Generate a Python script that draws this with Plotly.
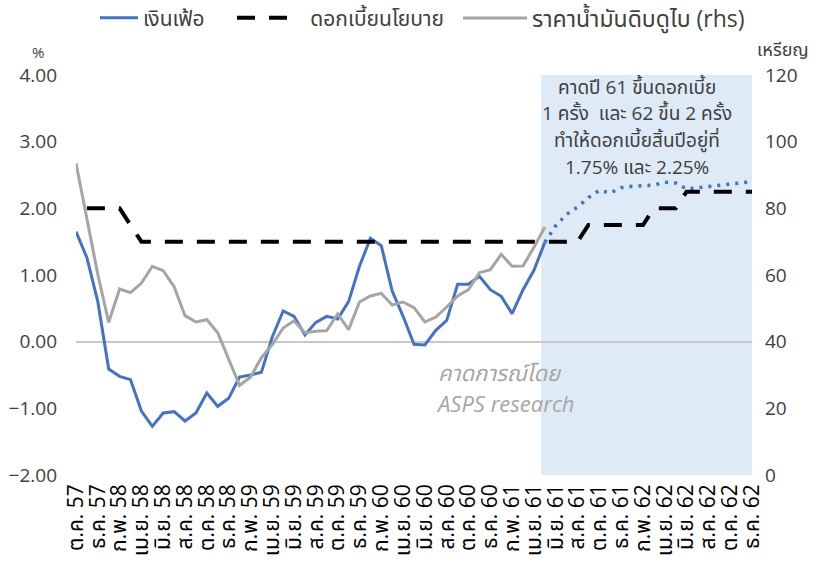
import plotly.graph_objects as go

# ---------------- data ----------------
month_names = ['ม.ค.', 'ก.พ.', 'มี.ค.', 'เม.ย.', 'พ.ค.', 'มิ.ย.', 'ก.ค.', 'ส.ค.', 'ก.ย.', 'ต.ค.', 'พ.ย.', 'ธ.ค.']
# categories: Oct 2557(BE) .. Dec 2562(BE), monthly (63 points)
categories = []
m, yr = 9, 57
for i in range(63):
    categories.append(f"{month_names[m]} {yr}")
    m += 1
    if m == 12:
        m, yr = 0, yr + 1

inflation = [1.65, 1.26, 0.60, -0.41, -0.52, -0.57, -1.04, -1.27, -1.07, -1.05,
             -1.19, -1.07, -0.77, -0.97, -0.85, -0.53, -0.50, -0.46, 0.07, 0.46,
             0.38, 0.10, 0.29, 0.38, 0.34, 0.60, 1.13, 1.55, 1.44, 0.76,
             0.38, -0.04, -0.05, 0.17, 0.32, 0.86, 0.86, 0.98, 0.78, 0.68,
             0.42, 0.78, 1.07, 1.49]
inflation_fc = [1.49, 1.74, 1.91, 2.02, 2.16, 2.27, 2.23, 2.31, 2.33, 2.34,
                2.35, 2.39, 2.38, 2.29, 2.31, 2.32, 2.35, 2.37, 2.39, 2.40]
policy_rate = [None, 2.00, 2.00, 2.00, 2.00, 1.75] + [1.50] * 41 + [1.75] * 6 + [2.00] * 3 + [2.25] * 7
dubai_oil = [93.5, 76.4, 60.2, 45.8, 55.8, 54.7, 57.6, 62.6, 61.3, 56.5,
             47.8, 45.9, 46.6, 42.7, 34.6, 26.9, 29.3, 35.2, 39.1, 44.1,
             46.3, 42.6, 43.1, 43.3, 48.3, 43.6, 51.9, 53.7, 54.5, 51.0,
             51.9, 50.2, 45.9, 47.4, 50.4, 53.7, 55.6, 60.7, 61.6, 66.2,
             62.6, 62.7, 68.3, 74.4]

left_ticks = [-2, -1, 0, 1, 2, 3, 4]
right_ticks = [0, 20, 40, 60, 80, 100, 120]
note_lines = ["คาดปี 61 ขึ้นดอกเบี้ย", "1 ครั้ง  และ 62 ขึ้น 2 ครั้ง",
              "ทำให้ดอกเบี้ยสิ้นปีอยู่ที่", "1.75% และ 2.25%"]
watermark = ["คาดการณ์โดย", "ASPS research"]

# ---------------- figure ----------------
FONT = "'Open Sans', 'Noto Sans Thai', 'Noto Sans', sans-serif"
BLUE = "#4472C4"
GRAY = "#A5A5A5"
W, H = 816, 570

x_all = list(range(len(categories)))
x_hist = x_all[:len(inflation)]
x_fc = x_all[len(inflation) - 1:len(inflation) - 1 + len(inflation_fc)]

fig = go.Figure()
fig.add_trace(go.Scatter(x=x_hist[:len(dubai_oil)], y=dubai_oil, yaxis="y2", mode="lines",
                         name="ราคาน้ำมันดิบดูไบ (rhs)", line=dict(color=GRAY, width=3),
                         legend="legend3"))
fig.add_trace(go.Scatter(x=x_hist, y=inflation, mode="lines", name="เงินเฟ้อ",
                         line=dict(color=BLUE, width=3), legend="legend"))
fig.add_trace(go.Scatter(x=x_fc, y=inflation_fc, mode="lines", showlegend=False,
                         line=dict(color=BLUE, width=3.5, dash="3px,6px")))
fig.add_trace(go.Scatter(x=x_all, y=policy_rate, mode="lines",
                         name="\u00a0\u00a0\u00a0ดอกเบี้ยนโยบาย",
                         line=dict(color="black", width=4, dash="18px,14px"), legend="legend2"))

# forecast shading
fig.add_shape(type="rect", xref="x", yref="y", x0=42.66, x1=62.3, y0=-2, y1=4,
              fillcolor="#DEEAF6", line_width=0, layer="below")

# plot area in window pixels: left 76, top 75, width 676, height 400
def px_x(px):
    return (px - 76) / 676

def px_y(py):
    return (475 - py) / 400

def cx(px):
    return px / W

def cy(py):
    return 1 - py / H

note_y = [87, 113, 140, 167]
for txt, py in zip(note_lines, note_y):
    fig.add_annotation(text=txt, xref="paper", yref="paper", x=px_x(637), y=px_y(py),
                       showarrow=False, xanchor="center", yanchor="middle",
                       font=dict(family=FONT, size=19, color="#404040"))
for txt, py, px in zip(watermark, [372, 403], [500, 505]):
    fig.add_annotation(text=f"<i>{txt}</i>", xref="paper", yref="paper",
                       x=px_x(px), y=px_y(py), showarrow=False,
                       xanchor="center", yanchor="middle",
                       font=dict(family=FONT, size=22, color="#A6A6A6"))
fig.add_annotation(text="%", xref="paper", yref="paper", x=px_x(38), y=px_y(52),
                   showarrow=False, xanchor="center", yanchor="middle",
                   font=dict(family=FONT, size=15, color="#404040"))
fig.add_annotation(text="เหรียญ", xref="paper", yref="paper", x=px_x(783), y=px_y(49),
                   showarrow=False, xanchor="center", yanchor="middle",
                   font=dict(family=FONT, size=18, color="#404040"))

leg_common = dict(orientation="h", xref="container", yref="container",
                  xanchor="left", yanchor="middle", y=cy(18),
                  bgcolor="rgba(0,0,0,0)")

fig.update_layout(
    width=W, height=H,
    margin=dict(l=76, r=64, t=75, b=95, autoexpand=False),
    paper_bgcolor="white", plot_bgcolor="white",
    font=dict(family=FONT, color="#404040"),
    showlegend=True,
    legend=dict(**leg_common, x=cx(95), itemwidth=38,
                font=dict(family=FONT, size=21, color="#404040")),
    legend2=dict(**leg_common, x=cx(232), itemwidth=52,
                 font=dict(family=FONT, size=21, color="#404040")),
    legend3=dict(**leg_common, x=cx(458), itemwidth=64,
                 font=dict(family=FONT, size=23, color="#404040")),
    xaxis=dict(range=[0, 62], tickmode="array", tickvals=x_all[::2],
               ticktext=categories[::2], tickangle=-90, showgrid=False,
               zeroline=False, showline=False, ticks="",
               tickfont=dict(family=FONT, size=21, color="black"),
               ticklabelstandoff=4, automargin=False),
    yaxis=dict(range=[-2, 4], tickmode="array", tickvals=left_ticks, tickformat=".2f",
               showgrid=False, zeroline=True, zerolinecolor="#C8C8C8", zerolinewidth=1.5,
               showline=False, ticks="", ticklabelstandoff=18,
               tickfont=dict(family=FONT, size=19, color="#404040"), automargin=False),
    yaxis2=dict(range=[0, 120], tickmode="array", tickvals=right_ticks, overlaying="y",
                side="right", showgrid=False, zeroline=False, showline=False, ticks="",
                ticklabelstandoff=12,
                tickfont=dict(family=FONT, size=19, color="#404040"), automargin=False),
)

fig.write_html("out.html", config={"displayModeBar": False},
               post_script="document.body.style.margin='0px';")
